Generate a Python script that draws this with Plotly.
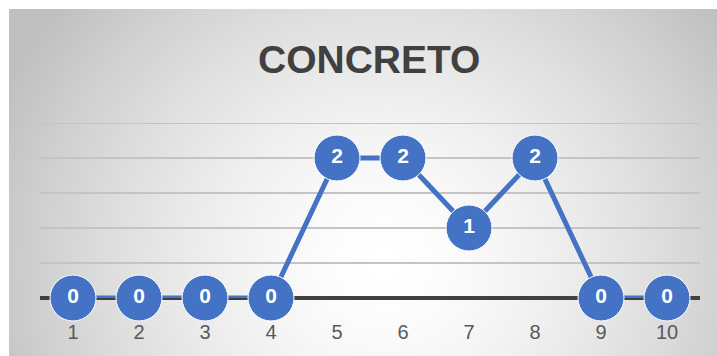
import base64
import struct
import zlib

import plotly.graph_objects as go

# Chart data
categories = [str(i) for i in range(1, 11)]
values = [0, 0, 0, 0, 2, 2, 1, 2, 0, 0]
chart_title = "CONCRETO"
y_max = 2.5

W, H = 717, 356
PANEL_X0, PANEL_Y0 = 9, 9


def radial_gradient_png(w, h, cx, cy, rx, ry, edge):
    """Build a grayscale radial-gradient PNG (white centre fading to `edge`)."""
    raw = bytearray()
    for j in range(h):
        raw.append(0)
        dy2 = ((j - cy) / ry) ** 2
        for i in range(w):
            t = min(1.0, (((i - cx) / rx) ** 2 + dy2) ** 0.5)
            v = int(round(255 - (255 - edge) * t ** 1.5))
            raw += bytes((v, v, v))

    def chunk(tag, data):
        c = struct.pack(">I", len(data)) + tag + data
        return c + struct.pack(">I", zlib.crc32(tag + data) & 0xFFFFFFFF)

    png = b"\x89PNG\r\n\x1a\n"
    png += chunk(b"IHDR", struct.pack(">IIBBBBB", w, h, 8, 2, 0, 0, 0))
    png += chunk(b"IDAT", zlib.compress(bytes(raw), 9))
    png += chunk(b"IEND", b"")
    return "data:image/png;base64," + base64.b64encode(png).decode()


pw, ph = W - PANEL_X0, H - PANEL_Y0
bg = radial_gradient_png(pw, ph, cx=375, cy=255, rx=420, ry=400, edge=192)

blue = "#4472C4"
grid_color = "#c4c4c4"

fig = go.Figure(
    go.Scatter(
        x=categories,
        y=values,
        mode="lines+markers+text",
        line=dict(color=blue, width=5),
        marker=dict(size=46, color=blue, line=dict(color="white", width=1)),
        text=[str(v) for v in values],
        textposition="middle center",
        textfont=dict(family="Liberation Sans", size=21, color="white", weight="bold"),
        cliponaxis=False,
        hoverinfo="skip",
    )
)

fig.update_layout(
    width=W,
    height=H,
    margin=dict(l=0, r=0, t=0, b=0),
    paper_bgcolor="white",
    plot_bgcolor="rgba(0,0,0,0)",
    showlegend=False,
    images=[
        dict(
            source=bg,
            xref="paper",
            yref="paper",
            x=PANEL_X0 / W,
            y=1 - PANEL_Y0 / H,
            sizex=pw / W,
            sizey=ph / H,
            xanchor="left",
            yanchor="top",
            sizing="stretch",
            layer="below",
        )
    ],
    xaxis=dict(
        type="category",
        range=[-0.5, len(categories) - 0.5],
        domain=[40 / W, 700 / W],
        showgrid=False,
        zeroline=False,
        showline=False,
        ticks="",
        ticklabelstandoff=20,
        tickfont=dict(family="Liberation Sans", size=20, color="#595959"),
    ),
    yaxis=dict(
        range=[0, y_max],
        domain=[1 - 298 / H, 1 - 123 / H],
        dtick=0.5,
        showticklabels=False,
        showgrid=True,
        gridcolor=grid_color,
        gridwidth=2,
        zeroline=True,
        zerolinecolor="#404040",
        zerolinewidth=3.5,
        showline=False,
    ),
    shapes=[
        # top gridline at the upper end of the value range
        dict(
            type="line",
            xref="x domain",
            yref="y",
            x0=0,
            x1=1,
            y0=y_max,
            y1=y_max,
            line=dict(color=grid_color, width=2),
            layer="below",
        )
    ],
    annotations=[
        dict(
            text=chart_title,
            xref="paper",
            yref="paper",
            x=369 / W,
            y=1 - 60 / H,
            xanchor="center",
            yanchor="middle",
            showarrow=False,
            font=dict(family="Liberation Sans", size=39,
                      color="#404040", weight="bold"),
        )
    ],
)

fig.write_html("out.html")
